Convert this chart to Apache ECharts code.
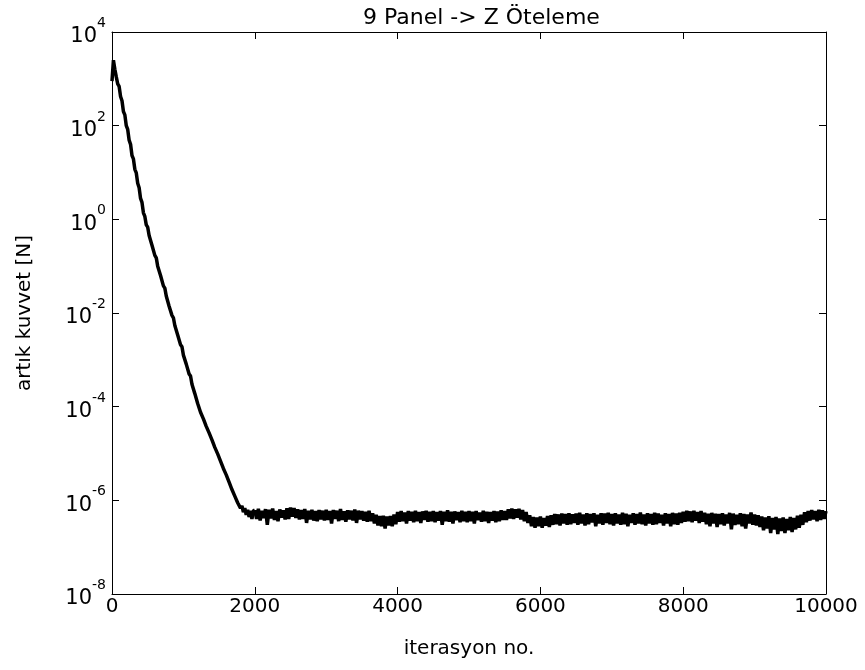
<!DOCTYPE html>
<html>
<head>
<meta charset="utf-8">
<script src="https://cdn.jsdelivr.net/npm/echarts@6/dist/echarts.min.js"></script>
<style>
  html, body { margin: 0; padding: 0; background: #ffffff; }
  #chart { width: 865px; height: 670px; }
</style>
</head>
<body>
<div id="chart"></div>
<script>
// Labels
const titleText = '9 Panel -> Z Öteleme';
const xAxisName = 'iterasyon no.';
const yAxisName = 'artık kuvvet [N]';

// Axis ranges / ticks
const xMin = 0, xMax = 10000, xInterval = 2000;
const yMin = 1e-8, yMax = 1e4;

// Residual force during the fast-decay phase, iterations 0..1980 (every 20)
const descentStart = 0;
const descentStep = 20;
const descentResidual = [
  890, 2500, 1600, 1100, 780, 690, 420, 340, 200, 170,
  100, 83, 49, 40, 23, 19.5, 11.7, 9.8, 5.9, 4.7,
  2.8, 2.3, 1.38, 1.15, 0.76, 0.68, 0.45, 0.41, 0.28, 0.26,
  0.17, 0.15, 0.10, 0.093, 0.063, 0.058, 0.038, 0.034, 0.023, 0.021,
  0.014, 0.013, 0.0089, 0.0079, 0.0054, 0.0049, 0.0034, 0.0032, 0.0021, 0.0019,
  1.26e-3, 1.17e-3, 8.1e-4, 7.4e-4, 5.0e-4, 4.5e-4, 3.0e-4, 2.8e-4, 1.9e-4, 1.8e-4,
  1.17e-4, 1.07e-4, 7.6e-5, 7.8e-5, 5.5e-5, 5.4e-5, 3.8e-5, 3.9e-5, 2.75e-5, 2.8e-5,
  1.95e-5, 1.9e-5, 1.35e-5, 1.38e-5, 9.8e-6, 9.5e-6, 6.9e-6, 6.6e-6, 4.8e-6, 4.7e-6,
  3.5e-6, 3.4e-6, 2.45e-6, 2.3e-6, 1.7e-6, 1.66e-6, 1.23e-6, 1.2e-6, 8.9e-7, 9.1e-7,
  6.8e-7, 7.6e-7, 5.6e-7, 6.8e-7, 4.9e-7, 6.3e-7, 4.4e-7, 6.0e-7, 4.0e-7, 6.0e-7
];

// Residual force on the noisy plateau, iterations 2000..10000 (every 25)
const plateauStart = 2000;
const plateauStep = 25;
const plateauResidual = [
  6.2e-7, 4.0e-7, 6.6e-7, 3.7e-7, 6.0e-7, 4.2e-7, 6.5e-7, 3.0e-7, 6.3e-7, 4.1e-7, 6.7e-7, 3.8e-7, 5.9e-7, 3.6e-7, 6.4e-7, 4.3e-7, 6.1e-7, 3.9e-7, 6.8e-7, 4.0e-7,
  7.0e-7, 4.5e-7, 6.8e-7, 4.2e-7, 6.4e-7, 3.9e-7, 6.2e-7, 4.0e-7, 6.5e-7, 3.3e-7, 6.0e-7, 3.9e-7, 6.3e-7, 3.7e-7, 5.9e-7, 3.6e-7, 6.2e-7, 3.9e-7, 6.0e-7, 3.7e-7,
  6.3e-7, 3.8e-7, 5.9e-7, 3.2e-7, 6.2e-7, 4.0e-7, 6.0e-7, 3.6e-7, 6.5e-7, 3.8e-7, 5.8e-7, 3.5e-7, 6.1e-7, 3.9e-7, 6.0e-7, 3.7e-7, 6.4e-7, 3.3e-7, 6.0e-7, 3.9e-7,
  5.9e-7, 3.7e-7, 5.7e-7, 3.5e-7, 6.0e-7, 3.6e-7, 5.3e-7, 3.2e-7, 4.9e-7, 2.9e-7, 4.6e-7, 2.8e-7, 4.7e-7, 2.5e-7, 4.5e-7, 2.9e-7, 4.6e-7, 2.8e-7, 5.0e-7, 3.1e-7,
  5.6e-7, 3.5e-7, 5.9e-7, 3.6e-7, 5.5e-7, 3.2e-7, 5.9e-7, 3.7e-7, 5.7e-7, 3.4e-7, 6.0e-7, 3.6e-7, 5.6e-7, 3.3e-7, 5.8e-7, 3.8e-7, 6.0e-7, 3.5e-7, 5.7e-7, 3.6e-7,
  5.9e-7, 3.4e-7, 5.6e-7, 3.7e-7, 5.9e-7, 3.0e-7, 5.7e-7, 3.6e-7, 6.1e-7, 3.5e-7, 5.7e-7, 3.2e-7, 5.8e-7, 3.8e-7, 5.6e-7, 3.4e-7, 6.0e-7, 3.6e-7, 5.7e-7, 3.4e-7,
  5.9e-7, 3.6e-7, 5.7e-7, 3.2e-7, 5.9e-7, 3.8e-7, 5.5e-7, 3.5e-7, 6.0e-7, 3.6e-7, 5.7e-7, 3.3e-7, 5.6e-7, 3.7e-7, 5.9e-7, 3.4e-7, 5.8e-7, 3.6e-7, 6.1e-7, 3.8e-7,
  5.9e-7, 3.8e-7, 6.4e-7, 4.1e-7, 6.7e-7, 4.0e-7, 6.4e-7, 4.3e-7, 6.6e-7, 3.9e-7, 6.2e-7, 3.6e-7, 5.6e-7, 3.3e-7, 4.8e-7, 2.8e-7, 4.4e-7, 2.6e-7, 4.3e-7, 2.8e-7,
  4.5e-7, 2.6e-7, 4.2e-7, 2.9e-7, 4.6e-7, 2.7e-7, 4.8e-7, 3.0e-7, 5.1e-7, 3.1e-7, 5.0e-7, 2.9e-7, 5.2e-7, 3.2e-7, 5.1e-7, 3.0e-7, 5.3e-7, 3.1e-7, 5.0e-7, 3.3e-7,
  5.2e-7, 3.0e-7, 5.4e-7, 3.2e-7, 5.0e-7, 2.9e-7, 5.3e-7, 3.1e-7, 5.1e-7, 3.4e-7, 5.3e-7, 2.8e-7, 4.9e-7, 3.2e-7, 5.3e-7, 3.0e-7, 5.2e-7, 3.3e-7, 5.4e-7, 3.1e-7,
  5.1e-7, 2.9e-7, 5.3e-7, 3.2e-7, 5.0e-7, 3.0e-7, 5.4e-7, 3.1e-7, 5.2e-7, 2.8e-7, 4.9e-7, 3.3e-7, 5.3e-7, 3.0e-7, 5.1e-7, 3.2e-7, 5.5e-7, 3.1e-7, 5.0e-7, 2.9e-7,
  5.3e-7, 3.2e-7, 5.1e-7, 3.0e-7, 5.4e-7, 3.1e-7, 5.2e-7, 3.3e-7, 4.9e-7, 2.9e-7, 5.3e-7, 3.2e-7, 5.1e-7, 2.8e-7, 5.4e-7, 3.1e-7, 5.2e-7, 3.0e-7, 5.4e-7, 3.3e-7,
  5.7e-7, 3.5e-7, 6.0e-7, 3.6e-7, 5.8e-7, 3.4e-7, 6.0e-7, 3.7e-7, 5.6e-7, 3.3e-7, 5.9e-7, 3.5e-7, 5.4e-7, 3.1e-7, 5.2e-7, 2.8e-7, 5.4e-7, 3.2e-7, 5.2e-7, 2.7e-7,
  5.1e-7, 3.1e-7, 5.3e-7, 2.9e-7, 5.0e-7, 3.2e-7, 5.4e-7, 2.4e-7, 5.2e-7, 3.0e-7, 4.9e-7, 3.1e-7, 5.3e-7, 2.8e-7, 5.1e-7, 2.5e-7, 5.0e-7, 3.2e-7, 5.5e-7, 3.0e-7,
  5.0e-7, 2.9e-7, 4.8e-7, 2.7e-7, 4.5e-7, 2.3e-7, 4.3e-7, 2.5e-7, 4.6e-7, 2.0e-7, 4.2e-7, 2.4e-7, 4.4e-7, 1.9e-7, 4.1e-7, 2.2e-7, 4.3e-7, 2.0e-7, 4.0e-7, 2.3e-7,
  4.4e-7, 2.1e-7, 4.2e-7, 2.4e-7, 4.7e-7, 2.6e-7, 4.9e-7, 3.0e-7, 5.6e-7, 3.4e-7, 5.9e-7, 3.7e-7, 6.2e-7, 3.9e-7, 5.9e-7, 3.6e-7, 6.3e-7, 3.8e-7, 6.1e-7, 4.0e-7,
  5.9e-7
];

// Pair each residual with its iteration number
const descentPoints = descentResidual.map((v, i) => [descentStart + i * descentStep, v]);
const plateauPoints = plateauResidual.map((v, i) => [plateauStart + i * plateauStep, v]);
// join the two pieces so the curve is continuous
descentPoints.push(plateauPoints[0]);

const FONT = 'DejaVu Sans';
const INK = '#000000';

const tickStyle = { show: true, inside: true, length: 7, lineStyle: { color: INK, width: 1 } };
const lineStyleAxis = { show: true, onZero: false, lineStyle: { color: INK, width: 1 } };

// "10" with a raised exponent, e.g. 10^-6; the tiny spacer fixes the line box height
function powerLabel(value) {
  const e = Math.round(Math.log10(value));
  return '{p| }{b|10}{s|' + e + '}';
}

const chart = echarts.init(document.getElementById('chart'), null, { renderer: 'canvas' });
chart.setOption({
  animation: false,
  backgroundColor: '#ffffff',
  title: {
    text: titleText,
    left: 358,
    top: 2,
    textStyle: { fontFamily: FONT, fontSize: 22, fontWeight: 'normal', color: INK }
  },
  grid: { left: 112, right: 39, top: 32, bottom: 76, containLabel: false },
  xAxis: [
    {
      type: 'value', position: 'bottom', min: xMin, max: xMax, interval: xInterval,
      axisLine: lineStyleAxis, axisTick: tickStyle, splitLine: { show: false },
      axisLabel: { margin: 3, fontFamily: FONT, fontSize: 20, color: INK, formatter: v => String(v) },
      name: xAxisName, nameLocation: 'middle', nameGap: 45,
      nameTextStyle: { fontFamily: FONT, fontSize: 20, color: INK }
    },
    {
      type: 'value', position: 'top', min: xMin, max: xMax, interval: xInterval,
      axisLine: lineStyleAxis, axisTick: tickStyle, splitLine: { show: false },
      axisLabel: { show: false }
    }
  ],
  yAxis: [
    {
      type: 'log', logBase: 10, position: 'left', min: yMin, max: yMax, interval: 2,
      axisLine: lineStyleAxis, axisTick: tickStyle, minorTick: { show: false },
      splitLine: { show: false },
      axisLabel: {
        margin: 6, formatter: powerLabel, color: INK,
        rich: {
          p: { fontSize: 1, lineHeight: 31 },
          b: { fontFamily: FONT, fontSize: 21, lineHeight: 25, verticalAlign: 'bottom', color: INK },
          s: { fontFamily: FONT, fontSize: 14, lineHeight: 14, verticalAlign: 'top', color: INK }
        }
      },
      name: yAxisName, nameLocation: 'middle', nameGap: 77, nameRotate: 90,
      nameTextStyle: { fontFamily: FONT, fontSize: 20, color: INK }
    },
    {
      type: 'log', logBase: 10, position: 'right', min: yMin, max: yMax, interval: 2,
      axisLine: lineStyleAxis, axisTick: tickStyle, minorTick: { show: false },
      splitLine: { show: false }, axisLabel: { show: false }
    }
  ],
  series: [
    {
      type: 'line', xAxisIndex: 0, yAxisIndex: 0,
      data: descentPoints,
      showSymbol: false, symbol: 'none', sampling: false,
      lineStyle: { color: INK, width: 3.5 },
      z: 3
    },
    {
      type: 'line', xAxisIndex: 0, yAxisIndex: 0,
      data: plateauPoints,
      showSymbol: false, symbol: 'none', sampling: false,
      lineStyle: { color: INK, width: 3.5, join: 'miter', miterLimit: 2 },
      z: 3
    }
  ]
});
</script>
</body>
</html>
